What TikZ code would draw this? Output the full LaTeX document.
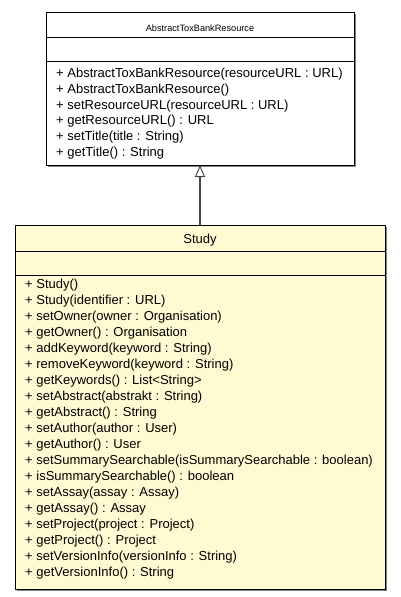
\documentclass[tikz,border=0pt]{standalone}
\usepackage{fontspec}
\setmainfont{Liberation Sans}
\usetikzlibrary{arrows.meta}
\definecolor{studyfill}{RGB}{255,250,210}
\definecolor{shadowc}{RGB}{130,130,130}
\definecolor{linec}{RGB}{70,70,70}
\tikzset{
  classbox/.style={draw=black, line width=1pt},
  meth/.style={anchor=base west, inner sep=0pt, font=\fontsize{13}{15}\selectfont},
  ctitle/.style={anchor=base, inner sep=0pt, font=\fontsize{13}{15}\selectfont},
  smalltitle/.style={anchor=base, inner sep=0pt, font=\fontsize{9.2}{11}\selectfont},
  inherit/.style={draw=linec, line width=1.2pt, -{Triangle[open, length=12pt, width=10pt, line width=1pt]}}
}
\begin{document}
\begin{tikzpicture}[x=1pt,y=-1pt]
\useasboundingbox (0,0) rectangle (400,597);
% top class
\fill[shadowc] (48,14) rectangle (356,167);
\fill[white] (46,12) rectangle (354,165);
\draw[classbox] (46,12) rectangle (354,165);
\draw[classbox] (46,37) -- (354,37);
\draw[classbox] (46,61) -- (354,61);
\node[smalltitle] (atitle) at (200,31.5) {AbstractToxBankResource};
\node[meth] (a1) at (56,77) {+ AbstractToxBankResource(resourceURL : URL)};
\node[meth] (a2) at (56,93) {+ AbstractToxBankResource()};
\node[meth] (a3) at (56,109) {+ setResourceURL(resourceURL : URL)};
\node[meth] (a4) at (56,124) {+ getResourceURL() : URL};
\node[meth] (a5) at (56,140) {+ setTitle(title : String)};
\node[meth] (a6) at (56,156) {+ getTitle() : String};
\coordinate (atop) at (200,165);
% Study class
\fill[shadowc] (17,227) rectangle (387,591);
\fill[studyfill] (15,225) rectangle (385,589);
\draw[classbox] (15,225) rectangle (385,589);
\draw[classbox] (15,251) -- (385,251);
\draw[classbox] (15,275) -- (385,275);
\node[ctitle] (stitle) at (200,243) {Study};
\coordinate (stop) at (200,225);
\foreach \t [count=\i from 0] in {
 {+ Study()},
 {+ Study(identifier : URL)},
 {+ setOwner(owner : Organisation)},
 {+ getOwner() : Organisation},
 {+ addKeyword(keyword : String)},
 {+ removeKeyword(keyword : String)},
 {+ getKeywords() : List<String>},
 {+ setAbstract(abstrakt : String)},
 {+ getAbstract() : String},
 {+ setAuthor(author : User)},
 {+ getAuthor() : User},
 {+ setSummarySearchable(isSummarySearchable : boolean)},
 {+ isSummarySearchable() : boolean},
 {+ setAssay(assay : Assay)},
 {+ getAssay() : Assay},
 {+ setProject(project : Project)},
 {+ getProject() : Project},
 {+ setVersionInfo(versionInfo : String)},
 {+ getVersionInfo() : String}
}{
 \node[meth] (s\i) at (25,288+16.05*\i) {\t};
}
\draw[inherit] (stop) -- (atop);
\end{tikzpicture}
\end{document}
